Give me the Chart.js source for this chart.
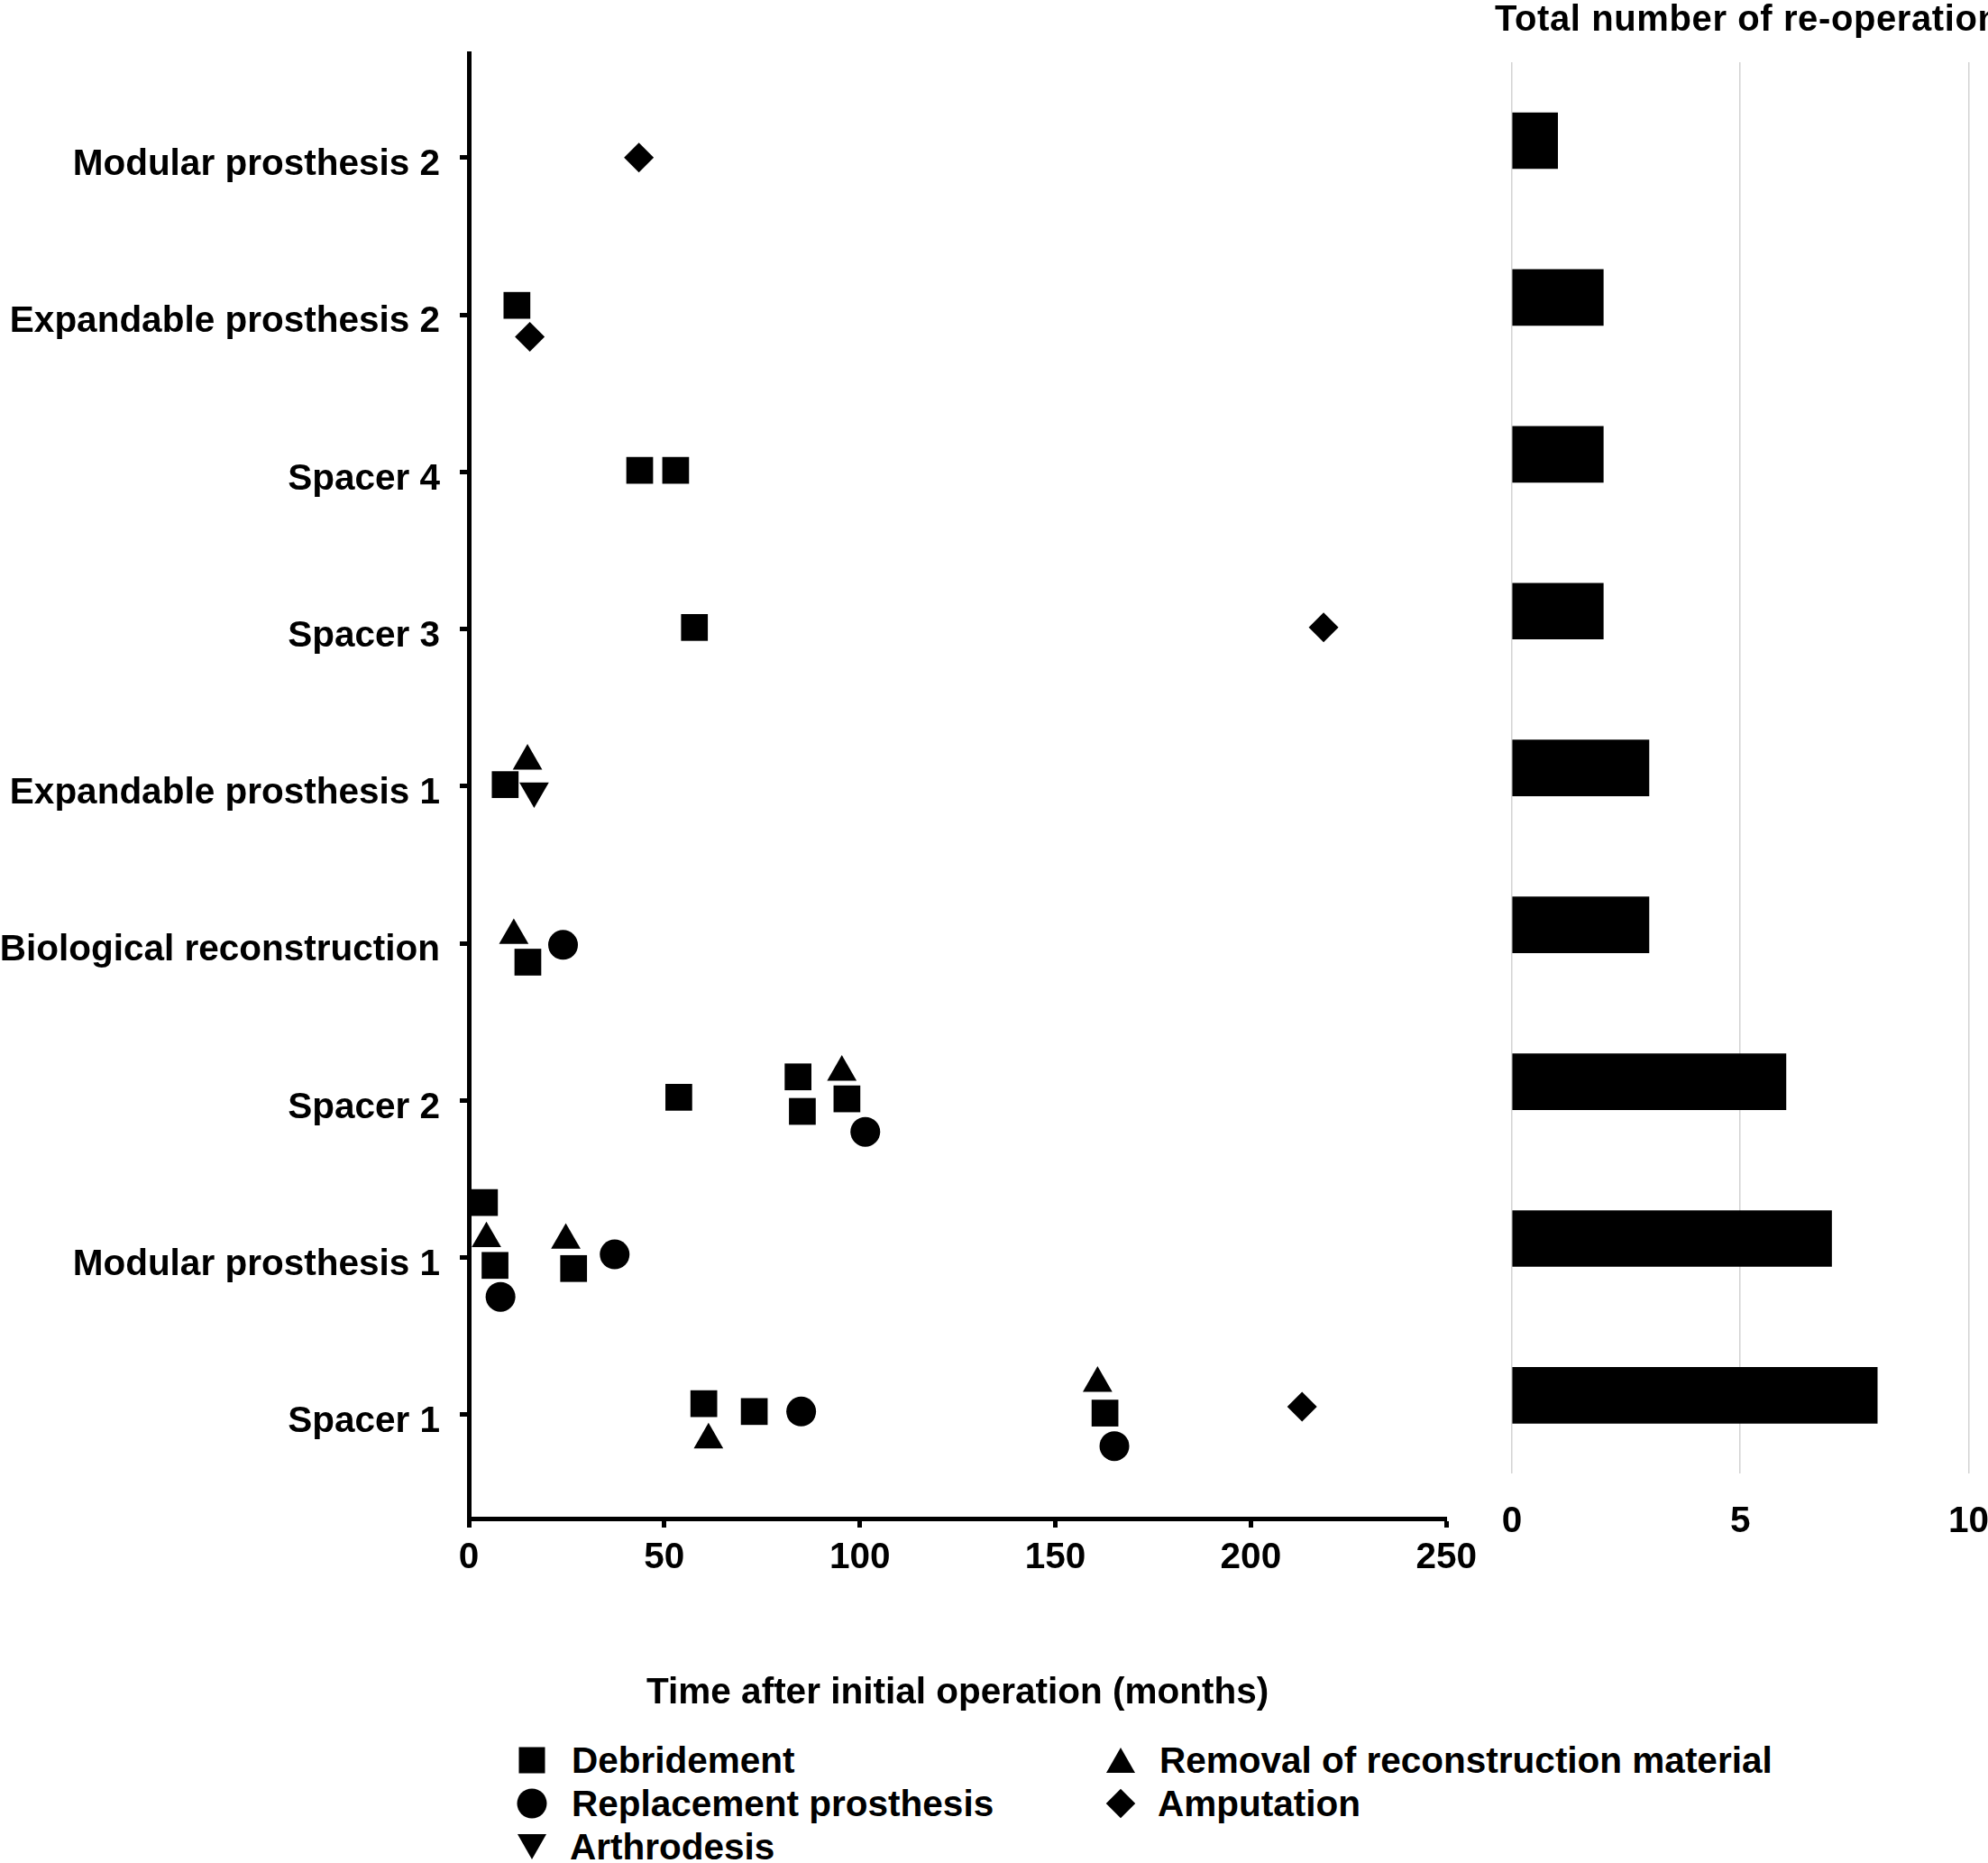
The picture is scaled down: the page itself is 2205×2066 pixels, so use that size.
<!DOCTYPE html>
<html>
<head>
<meta charset="utf-8">
<title>Re-operations after initial operation</title>
<script src="https://cdn.jsdelivr.net/npm/chart.js@4.4.1/dist/chart.umd.min.js"></script>
<style>
  html, body { margin: 0; padding: 0; background: #fff; }
  body {
    width: 2205px; height: 2066px; position: relative; overflow: hidden;
    font-family: "Liberation Sans", Arial, sans-serif; font-weight: bold; color: #000;
  }
  #timeline-wrap { position: absolute; left: 0; top: 0; width: 1648px; height: 1904px; }
  #totals-wrap { position: absolute; left: 1600px; top: 0; width: 635px; height: 1760px; }
  #totals-title { position: absolute; left: 1658px; top: 0; font-size: 40px; line-height: 40px; letter-spacing: 0.6px; white-space: nowrap; }
  .lg-text { position: absolute; font-size: 40.5px; line-height: 48px; white-space: nowrap; transform: translateY(-50%); }
  .mk { position: absolute; transform: translate(-50%, -50%); }
  .mk-square { width: 29px; height: 29px; background: #000; }
  .mk-circle { width: 33px; height: 33px; border-radius: 50%; background: #000; }
  .mk-up { width: 0; height: 0; border-left: 16.4px solid transparent; border-right: 16.4px solid transparent; border-bottom: 28.3px solid #000; }
  .mk-down { width: 0; height: 0; border-left: 16.4px solid transparent; border-right: 16.4px solid transparent; border-top: 28.3px solid #000; }
  .mk-diamond { width: 23px; height: 23px; background: #000; transform: translate(-50%, -50%) rotate(45deg); }
</style>
</head>
<body>
<div id="timeline-wrap"><canvas id="timeline-chart"></canvas></div>
<div id="totals-wrap"><canvas id="totals-chart"></canvas></div>
<div id="totals-title">Total number of re-operation</div>

<div class="mk mk-square" style="left:590px; top:1952px;"></div>
<div class="lg-text" style="left:634px; top:1952px;">Debridement</div>
<div class="mk mk-circle" style="left:590px; top:2000px;"></div>
<div class="lg-text" style="left:634px; top:2000px;">Replacement prosthesis</div>
<div class="mk mk-down" style="left:590px; top:2048px;"></div>
<div class="lg-text" style="left:632px; top:2048px;">Arthrodesis</div>
<div class="mk mk-up" style="left:1243px; top:1952px;"></div>
<div class="lg-text" style="left:1286px; top:1952px;">Removal of reconstruction material</div>
<div class="mk mk-diamond" style="left:1243px; top:2000px;"></div>
<div class="lg-text" style="left:1284px; top:2000px;">Amputation</div>

<script>
// cases from bottom (index 0) to top
const cases = [
  'Spacer 1', 'Modular prosthesis 1', 'Spacer 2', 'Biological reconstruction',
  'Expandable prosthesis 1', 'Spacer 3', 'Spacer 4', 'Expandable prosthesis 2', 'Modular prosthesis 2',
];
const totals = [8, 7, 6, 3, 3, 2, 2, 2, 1];

// [case, months after initial operation, vertical jitter within the row]
const debridement = [
  ['Spacer 1', 60.1, 0.07], ['Spacer 1', 73.0, 0.02], ['Spacer 1', 162.7, 0.01],
  ['Modular prosthesis 1', 4.0, 0.35], ['Modular prosthesis 1', 6.7, -0.05], ['Modular prosthesis 1', 26.8, -0.07],
  ['Spacer 2', 53.7, 0.02], ['Spacer 2', 84.2, 0.15], ['Spacer 2', 85.3, -0.07], ['Spacer 2', 96.7, 0.01],
  ['Biological reconstruction', 15.1, -0.12],
  ['Expandable prosthesis 1', 9.3, 0.01],
  ['Spacer 3', 57.7, 0.01],
  ['Spacer 4', 43.7, 0.01], ['Spacer 4', 52.9, 0.01],
  ['Expandable prosthesis 2', 12.3, 0.06],
];
const replacement = [
  ['Spacer 1', 85.0, 0.02], ['Spacer 1', 165.1, -0.20],
  ['Modular prosthesis 1', 8.1, -0.25], ['Modular prosthesis 1', 37.3, 0.02],
  ['Spacer 2', 101.4, -0.20],
  ['Biological reconstruction', 24.1, -0.01],
];
const arthrodesis = [
  ['Expandable prosthesis 1', 16.7, -0.03],
];
const removal = [
  ['Spacer 1', 61.3, -0.16], ['Spacer 1', 160.8, 0.20],
  ['Modular prosthesis 1', 4.5, 0.12], ['Modular prosthesis 1', 24.8, 0.11],
  ['Spacer 2', 95.4, 0.18],
  ['Biological reconstruction', 11.5, 0.05],
  ['Expandable prosthesis 1', 15.0, 0.16],
];
const amputation = [
  ['Spacer 1', 213.1, 0.05],
  ['Spacer 3', 218.6, 0.01],
  ['Expandable prosthesis 2', 15.6, -0.14],
  ['Modular prosthesis 2', 43.5, 0.0],
];
const monthTicks = [0, 50, 100, 150, 200, 250];
const totalTicks = [0, 5, 10];

const FONT = { family: "'Liberation Sans', Arial, sans-serif", weight: 'bold', size: 40.5 };

function toPoints(list) {
  return list.map(([name, months, jitter]) => ({ x: months, y: cases.indexOf(name) + jitter }));
}

function markerSet(label, list, style, radius, rotation) {
  return {
    label,
    data: toPoints(list),
    pointStyle: style,
    pointRadius: radius,
    pointHoverRadius: radius,
    pointRotation: rotation || 0,
    pointBackgroundColor: '#000',
    pointBorderWidth: 0,
    clip: false,
  };
}

function renderTimeline() {
  const canvas = document.getElementById('timeline-chart');
  new Chart(canvas, {
    type: 'scatter',
    data: {
      datasets: [
        markerSet('Debridement', debridement, 'rect', 21),
        markerSet('Replacement prosthesis', replacement, 'circle', 16.5),
        markerSet('Arthrodesis', arthrodesis, 'triangle', 18.9, 180),
        markerSet('Removal of reconstruction material', removal, 'triangle', 18.9),
        markerSet('Amputation', amputation, 'rectRot', 16.5),
      ],
    },
    options: {
      responsive: true,
      maintainAspectRatio: false,
      animation: false,
      layout: { padding: { top: 59, right: 36, left: 0, bottom: 2 } },
      plugins: { legend: { display: false }, tooltip: { enabled: false } },
      scales: {
        x: {
          type: 'linear',
          min: 0,
          max: 250,
          afterBuildTicks: s => { s.ticks = monthTicks.map(v => ({ value: v })); },
          ticks: { color: '#000', font: FONT, padding: 10, maxRotation: 0 },
          grid: { drawOnChartArea: false, tickLength: 10, tickWidth: 5, tickColor: '#000' },
          border: { color: '#000', width: 5 },
          title: { display: true, text: 'Time after initial operation (months)', color: '#000', font: FONT, padding: { top: 0, bottom: 0 } },
          afterFit: s => { s.height = 218; },
        },
        y: {
          type: 'linear',
          min: -0.661,
          max: 8.665,
          afterBuildTicks: s => { s.ticks = cases.map((c, i) => ({ value: i })); },
          ticks: { color: '#000', font: FONT, padding: 22, labelOffset: 8, callback: v => cases[v] },
          grid: { drawOnChartArea: false, tickLength: 10, tickWidth: 5, tickColor: '#000' },
          border: { color: '#000', width: 5 },
          afterFit: s => { s.width = 520; },
        },
      },
    },
  });
}

function renderTotals() {
  const canvas = document.getElementById('totals-chart');
  new Chart(canvas, {
    type: 'bar',
    data: {
      labels: cases,
      datasets: [{ label: 'Total number of re-operation', data: totals, backgroundColor: '#000', borderWidth: 0, barThickness: 62 }],
    },
    options: {
      indexAxis: 'y',
      responsive: true,
      maintainAspectRatio: false,
      animation: false,
      layout: { padding: { top: 69, right: 22, left: 77, bottom: 0 } },
      plugins: { legend: { display: false }, tooltip: { enabled: false } },
      scales: {
        x: {
          min: 0,
          max: 10,
          afterBuildTicks: s => { s.ticks = totalTicks.map(v => ({ value: v })); },
          ticks: { color: '#000', font: FONT, padding: 29, maxRotation: 0 },
          grid: { color: '#d3d3d3', lineWidth: 1.5, drawTicks: false },
          border: { display: false },
          afterFit: s => { s.height = 125.6; },
        },
        y: { reverse: true, display: false, grid: { display: false } },
      },
    },
  });
}

document.addEventListener('DOMContentLoaded', () => {
  renderTimeline();
  renderTotals();
});
</script>
</body>
</html>
